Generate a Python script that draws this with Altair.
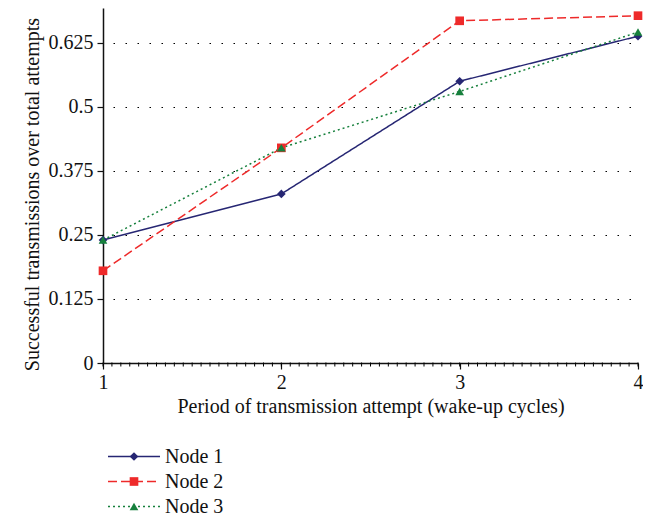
import altair as alt
import pandas as pd

periods = [1, 2, 3, 4]
node1 = [0.24, 0.33, 0.55, 0.638]
node2 = [0.18, 0.42, 0.668, 0.678]
node3 = [0.24, 0.42, 0.53, 0.646]
nodes = ["Node 1", "Node 2", "Node 3"]
colors = ["#262673", "#EE2A2A", "#17803D"]
shapes = ["diamond", "square", "triangle-up"]
dashes = [[1, 0], [9, 4], [2, 3]]
y_ticks = [0, 0.125, 0.25, 0.375, 0.5, 0.625]
minor_ticks = [round(1 + 0.05 * i, 2) for i in range(61)]

rows = []
for name, vals in zip(nodes, [node1, node2, node3]):
    for p, v in zip(periods, vals):
        rows.append({"period": p, "value": v, "node": name})
df = pd.DataFrame(rows)

FONT = "Liberation Serif"
FS = 20
H = 355

color_scale = alt.Scale(domain=nodes, range=colors)
shape_scale = alt.Scale(domain=nodes, range=shapes)
dash_scale = alt.Scale(domain=nodes, range=dashes)
size_scale = alt.Scale(domain=nodes, range=[75, 75, 85])

x_enc = alt.X(
    "period:Q",
    scale=alt.Scale(domain=[1, 4], nice=False, zero=False),
    axis=alt.Axis(
        values=periods,
        format="d",
        tickSize=6,
        grid=False,
        labelFlush=False,
        title="Period of transmission attempt (wake-up cycles)",
        titlePadding=4,
        labelPadding=3,
    ),
)
y_enc = alt.Y(
    "value:Q",
    scale=alt.Scale(domain=[0, 0.693], nice=False),
    axis=alt.Axis(
        values=y_ticks,
        labelExpr="datum.value == 0 ? '0' : format(datum.value, '.4~g')",
        tickSize=6,
        grid=True,
        gridColor="#000000",
        gridDash=[1.5, 10.5],
        gridDashOffset=-10,
        gridWidth=1.2,
        title="Successful transmissions over total attempts",
        titlePadding=6,
        titleY=186,
        labelPadding=4,
    ),
)

lines = alt.Chart(df).mark_line(strokeWidth=1.5).encode(
    x=x_enc,
    y=y_enc,
    color=alt.Color("node:N", scale=color_scale, legend=None),
    strokeDash=alt.StrokeDash("node:N", scale=dash_scale, legend=None),
)
points = alt.Chart(df).mark_point(filled=True, opacity=1).encode(
    x="period:Q",
    y="value:Q",
    color=alt.Color("node:N", scale=color_scale, legend=None),
    shape=alt.Shape("node:N", scale=shape_scale, legend=None),
    size=alt.Size("node:N", scale=size_scale, legend=None),
)
minor = alt.Chart(pd.DataFrame({"period": minor_ticks})).mark_tick(
    orient="vertical", size=4, thickness=1, color="#000", opacity=1
).encode(x="period:Q", y=alt.value(H + 1.5))

main = alt.layer(lines, points, minor).properties(width=535, height=H)

leg_df = pd.DataFrame({"node": nodes})
ly = alt.Y("node:N", axis=None, scale=alt.Scale(domain=nodes, paddingInner=0, paddingOuter=0))
leg_lines = alt.Chart(leg_df).mark_rule(strokeWidth=1.5).encode(
    x=alt.value(5), x2=alt.value(57), y=ly,
    color=alt.Color("node:N", scale=color_scale, legend=None),
    strokeDash=alt.StrokeDash("node:N", scale=dash_scale, legend=None),
)
leg_pts = alt.Chart(leg_df).mark_point(filled=True, opacity=1).encode(
    x=alt.value(31), y=ly,
    color=alt.Color("node:N", scale=color_scale, legend=None),
    shape=alt.Shape("node:N", scale=shape_scale, legend=None),
    size=alt.Size("node:N", scale=size_scale, legend=None),
)
leg_text = alt.Chart(leg_df).mark_text(align="left", baseline="middle", font=FONT, fontSize=FS, color="#111").encode(
    x=alt.value(62), y=ly, text="node:N"
)
legend = alt.layer(leg_lines, leg_pts, leg_text).properties(width=250, height=75)

chart = alt.vconcat(main, legend, spacing=28).properties(
    padding={"left": 14, "top": 0, "right": 0, "bottom": 0}
).configure_view(
    stroke=None
).configure_axis(
    labelFont=FONT, titleFont=FONT, labelFontSize=FS, titleFontSize=FS,
    labelColor="#111", titleColor="#111", titleFontWeight="normal",
    domainColor="#111", tickColor="#111", domainWidth=1.5, tickWidth=1.2,
)

chart.save("out.html", embed_options={"renderer": "svg", "actions": False})
